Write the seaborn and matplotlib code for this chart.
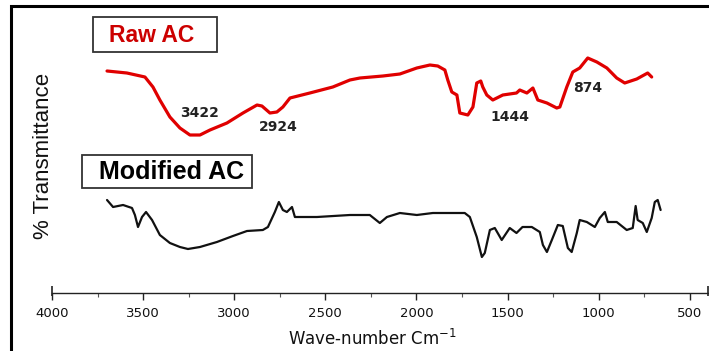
import matplotlib
matplotlib.use("Agg")
import matplotlib.pyplot as plt
from matplotlib.patches import Rectangle
from matplotlib.ticker import MultipleLocator, AutoMinorLocator
import numpy as np
import pandas as pd
import seaborn as sns

# FTIR spectra (wavenumber in cm^-1, relative transmittance, arbitrary offset units)
raw_wavenumber = [3698, 3589, 3490, 3446, 3408, 3353, 3298, 3243, 3188, 3133, 3040, 2952,
                  2875, 2848, 2804, 2766, 2733, 2694, 2585, 2459, 2365, 2310, 2184, 2091,
                  1998, 1926, 1883, 1844, 1828, 1806, 1778, 1762, 1718, 1690, 1669, 1647,
                  1636, 1614, 1581, 1526, 1451, 1433, 1394, 1361, 1334, 1284, 1230, 1213,
                  1175, 1142, 1104, 1060, 1010, 955, 901, 857, 791, 731, 709]
raw_transmittance = [229, 227, 223, 213, 200, 183, 172, 165, 165, 170, 177, 187,
                     195, 194, 187, 188, 193, 202, 207, 213, 220, 222, 224, 226,
                     232, 235, 234, 230, 220, 208, 205, 187, 185, 193, 217, 219,
                     213, 205, 200, 205, 207, 210, 207, 212, 200, 197, 192, 193,
                     213, 228, 232, 242, 238, 232, 222, 217, 221, 227, 223]

mod_wavenumber = [3698, 3665, 3610, 3561, 3545, 3528, 3506, 3484, 3451, 3408, 3353, 3298,
                  3254, 3188, 3095, 3007, 2930, 2843, 2815, 2777, 2755, 2733, 2711, 2683,
                  2667, 2546, 2365, 2256, 2201, 2162, 2091, 1998, 1910, 1817, 1735, 1707,
                  1669, 1641, 1625, 1597, 1570, 1532, 1488, 1451, 1418, 1367, 1323, 1306,
                  1284, 1257, 1224, 1197, 1169, 1148, 1120, 1104, 1065, 1021, 994, 966,
                  950, 901, 846, 813, 797, 786, 758, 736, 709, 692, 676, 660]
mod_transmittance = [100, 93, 95, 92, 85, 73, 83, 88, 80, 65, 57, 53,
                     51, 53, 58, 64, 69, 70, 73, 88, 98, 90, 88, 93,
                     83, 83, 85, 85, 77, 83, 87, 85, 87, 87, 87, 83,
                     63, 43, 47, 70, 72, 60, 72, 67, 73, 73, 68, 55,
                     48, 60, 75, 74, 52, 48, 67, 80, 78, 73, 82, 88,
                     78, 78, 70, 72, 94, 80, 77, 68, 82, 98, 100, 90]

# peak labels: text, label position (wavenumber, transmittance)
peak_labels = ["3422", "2924", "1444", "874"]
peak_label_x = [3188, 2760, 1488, 1060]
peak_label_y = [187, 173, 183, 212]

series_names = ["Raw AC", "Modified AC"]
x_ticks = [4000, 3500, 3000, 2500, 2000, 1500, 1000, 500]

W, H = 709, 351
sns.set_theme(style="white")
plt.rcParams["font.family"] = ["DejaVu Sans"]

fig = plt.figure(figsize=(W / 100, H / 100), dpi=100)
fig.patch.set_facecolor("white")


def px_x(x):
    return x / W


def px_y(y):
    return 1 - y / H


ax = fig.add_axes([px_x(52), px_y(293), (708 - 52) / W, (293 - 20) / H])
ax.set_facecolor("white")

df = pd.concat([
    pd.DataFrame({"wavenumber": raw_wavenumber, "T": raw_transmittance, "sample": series_names[0]}),
    pd.DataFrame({"wavenumber": mod_wavenumber, "T": mod_transmittance, "sample": series_names[1]}),
])

sns.lineplot(data=df[df["sample"] == series_names[0]], x="wavenumber", y="T",
             color="#e00000", linewidth=2.3, sort=False, ax=ax, legend=False)
sns.lineplot(data=df[df["sample"] == series_names[1]], x="wavenumber", y="T",
             color="#111111", linewidth=1.6, sort=False, ax=ax, legend=False)

ax.set_xlim(4000, 400)
ax.set_ylim(7, 280)

for s in ["top", "right", "left"]:
    ax.spines[s].set_visible(False)
ax.spines["bottom"].set_color("#222222")
ax.spines["bottom"].set_linewidth(1.0)

ax.xaxis.set_major_locator(MultipleLocator(500))
ax.xaxis.set_minor_locator(AutoMinorLocator(2))
ax.set_xticks(x_ticks)
ax.set_xticklabels(x_ticks)
ax.tick_params(axis="x", which="major", direction="out", length=5, width=1,
               color="#222222", labelsize=9.5, pad=5, labelcolor="#111111", bottom=True)
ax.tick_params(axis="x", which="minor", direction="out", length=3, width=0.8,
               color="#555555", bottom=True)
ax.set_yticks([])

# end caps of the wavenumber axis
ax.vlines([4000, 400], 4, 14, color="#222222", linewidth=1.2, clip_on=False)

ax.set_xlabel("Wave-number Cm$^{-1}$", fontsize=12, color="#111111")
ax.xaxis.set_label_coords((372 - 52) / 656, -(329 - 293) / 273)
ax.set_ylabel("% Transmittance", fontsize=16, family=["Liberation Sans"], color="#111111")
ax.yaxis.set_label_coords(0.003, (293 - 156) / 273)

for t, x, y in zip(peak_labels, peak_label_x, peak_label_y):
    ax.text(x, y, t, fontsize=10, fontweight="bold", color="#222222",
            ha="center", va="center")

# boxed sample names
fig.patches.append(Rectangle((px_x(93), px_y(52)), (217 - 93) / W, 35 / H,
                             transform=fig.transFigure, fill=False,
                             edgecolor="#333333", linewidth=1.3))
fig.text(px_x(152), px_y(35), series_names[0], fontsize=16.5, fontweight="bold",
         color="#cc0000", family=["Liberation Sans"], ha="center", va="center")
fig.patches.append(Rectangle((px_x(82), px_y(188)), (252 - 82) / W, 33 / H,
                             transform=fig.transFigure, fill=False,
                             edgecolor="#333333", linewidth=1.3))
fig.text(px_x(172), px_y(172), series_names[1], fontsize=18, fontweight="bold",
         color="#000000", family=["Liberation Sans"], ha="center", va="center")

# outer frame
fig.patches.append(Rectangle((px_x(11), -0.2), 1.2, 1.2 - 6 / H,
                             transform=fig.transFigure, fill=False,
                             edgecolor="#000000", linewidth=2.2))

fig.savefig("out.png", dpi=100, facecolor="white")
